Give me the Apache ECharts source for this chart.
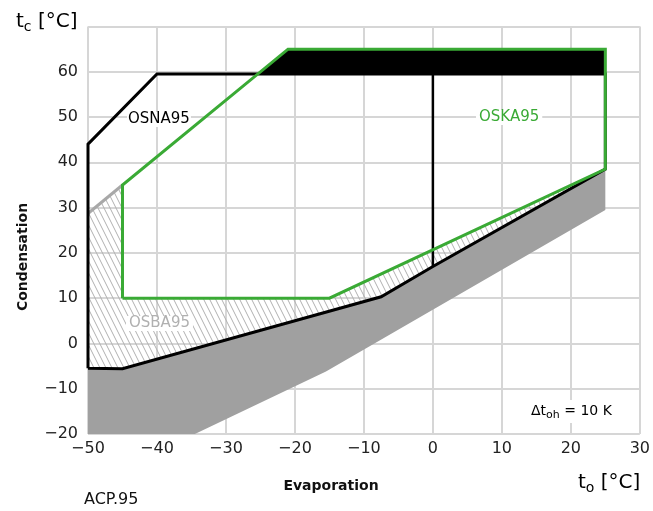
<!DOCTYPE html>
<html><head><meta charset="utf-8">
<script src="https://cdn.jsdelivr.net/npm/echarts@6/dist/echarts.min.js"></script>
<style>html,body{margin:0;padding:0;background:#fff}#c{width:653px;height:511px}</style>
</head><body><div id="c"></div>
<script>
// axis ticks
const xTicks = [-50, -40, -30, -20, -10, 0, 10, 20, 30];
const yTicks = [-20, -10, 0, 10, 20, 30, 40, 50, 60, 70];
// OSNA95 envelope (black)
const osnaOutline = [[-50,-5.5],[-45,-5.6],[-7.5,10.3],[0,17],[25,38.5],[25,59.5],[-40,59.5],[-50,44],[-50,-5.5]];
const osnaDivider = [[0,17],[0,59.5]];
// OSKA95 envelope (green)
const oskaOutline = [[-45,10],[-45,35],[-21,65],[25,65],[25,38.5],[-15,10],[-45,10]];
// black filled band (OSKA above OSNA)
const blackBand = [[-25.4,59.5],[-21,65],[25,65],[25,59.5]];
// OSBA95 hatched area
const osbaArea = [[-50,28.7],[-45,35],[-45,10],[-15,10],[25,38.5],[0,17],[-7.5,10.3],[-45,-5.6],[-50,-5.5]];
const osbaLine = [[-50,28.7],[-45,35]];
// grey region below envelope
const greyArea = [[-50,-5.5],[-45,-5.6],[-7.5,10.3],[0,17],[25,38.5],[25,29.5],[-15.5,-6.2],[-34.5,-20],[-50,-20]];

const FONT = 'DejaVu Sans';

function hatch(){
  const c = document.createElement('canvas');
  c.width = 6; c.height = 12;
  const g = c.getContext('2d');
  g.strokeStyle = '#b0b0b0'; g.lineWidth = 1;
  [-6,0,6].forEach(o=>{ g.beginPath(); g.moveTo(o-1,-2); g.lineTo(o+7,14); g.stroke(); });
  return c;
}

function polySeries(pts, style, z){
  return {
    type:'custom', z:z, silent:true,
    data:[0],
    renderItem:function(params, api){
      return {type:'polygon', shape:{points:pts.map(p=>api.coord(p))}, style:style};
    }
  };
}
function lineSeries(pts, color, w, z){
  return {type:'line', data:pts, z:z, symbol:'none', silent:true, animation:false,
    lineStyle:{color:color, width:w, join:'miter'}};
}

const chart = echarts.init(document.getElementById('c'), null, {renderer:'canvas'});
const fmt = v => String(v).replace('-', '\u2212');
chart.setOption({
  animation:false,
  grid:{left:88, right:12, top:26.5, bottom:77},
  xAxis:{type:'value', min:xTicks[0], max:xTicks[xTicks.length-1], interval:10,
    axisLine:{show:false}, axisTick:{show:false},
    splitLine:{show:true, lineStyle:{color:'#d6d6d6', width:2}},
    axisLabel:{formatter:fmt, fontFamily:FONT, fontSize:16, color:'#222', margin:7}},
  yAxis:{type:'value', min:yTicks[0], max:yTicks[yTicks.length-1], interval:10,
    axisLine:{show:false}, axisTick:{show:false},
    splitLine:{show:true, lineStyle:{color:'#d6d6d6', width:2}},
    axisLabel:{formatter:v => v===70 ? '' : fmt(v), fontFamily:FONT, fontSize:16, color:'#222', margin:10}},
  series:[
    polySeries(greyArea, {fill:'#a0a0a0'}, 2),
    polySeries(osbaArea, {fill:{image:hatch(), repeat:'repeat'}}, 3),
    polySeries(blackBand, {fill:'#000'}, 4),
    lineSeries(osbaLine, '#a8a8a8', 3, 5),
    lineSeries(osnaOutline, '#000', 3, 6),
    lineSeries(osnaDivider, '#000', 2.5, 6),
    lineSeries(oskaOutline, '#3aaa35', 3, 7)
  ],
  graphic:[
    {type:'text', left:127, top:112, z:20, style:{text:'OSNA95', fontFamily:FONT, fontSize:15, fill:'#000', backgroundColor:'#fff', padding:[0,1]}},
    {type:'text', left:476, top:110, z:20, style:{text:'OSKA95', fontFamily:FONT, fontSize:15, fill:'#3aaa35', backgroundColor:'#fff', padding:[0,3]}},
    {type:'text', left:126, top:316, z:20, style:{text:'OSBA95', fontFamily:FONT, fontSize:15, fill:'#b0b0b0', backgroundColor:'#fff', padding:[0,3]}},
    {type:'text', left:527, top:400, z:20, style:{
      text:'{a|Δt}{s|oh}{a| = 10 K}', backgroundColor:'#fff', padding:[2,4],
      rich:{a:{fontFamily:FONT, fontSize:14, color:'#111'}, s:{fontFamily:FONT, fontSize:11, color:'#111', padding:[8,0,0,0]}}}},
    {type:'text', left:16, top:12, z:20, style:{
      text:'{a|t}{s|c}{a| [°C]}',
      rich:{a:{fontFamily:FONT, fontSize:20, color:'#111'}, s:{fontFamily:FONT, fontSize:14, color:'#111', padding:[10,0,0,0]}}}},
    {type:'text', left:578, top:473, z:20, style:{
      text:'{a|t}{s|o}{a| [°C]}',
      rich:{a:{fontFamily:FONT, fontSize:20, color:'#111'}, s:{fontFamily:FONT, fontSize:14, color:'#111', padding:[10,0,0,0]}}}},
    {type:'text', x:331, y:486, z:20, style:{text:'Evaporation', fontFamily:FONT, fontSize:14, fontWeight:'bold', fill:'#111', align:'center', verticalAlign:'middle'}},
    {type:'text', x:23, y:257, rotation:Math.PI/2, z:20, style:{text:'Condensation', fontFamily:FONT, fontSize:14, fontWeight:'bold', fill:'#111', align:'center', verticalAlign:'middle'}},
    {type:'text', left:84, top:492, z:20, style:{text:'ACP.95', fontFamily:FONT, fontSize:16, fill:'#111'}}
  ]
});
</script></body></html>
